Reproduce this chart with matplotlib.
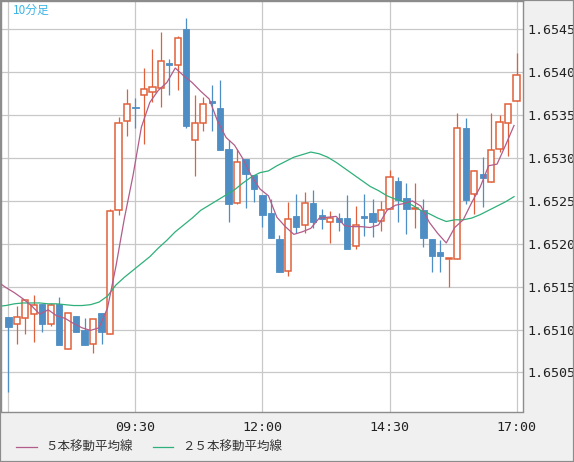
import numpy as np
import matplotlib.pyplot as plt
from matplotlib.patches import Rectangle
from matplotlib.lines import Line2D

# 10-minute bars, 07:00 .. 17:00
opens = [1.65115, 1.65107, 1.65114, 1.65118, 1.65130, 1.65107, 1.65130, 1.65077, 1.65116, 1.65099,
         1.65083, 1.65119, 1.65095, 1.65240, 1.65343, 1.65360, 1.65373, 1.65377, 1.65382, 1.65411,
         1.65408, 1.65451, 1.65321, 1.65341, 1.65367, 1.65358, 1.65311, 1.65248, 1.65299, 1.65280,
         1.65257, 1.65236, 1.65206, 1.65168, 1.65232, 1.65222, 1.65248, 1.65234, 1.65226, 1.65230,
         1.65230, 1.65198, 1.65232, 1.65236, 1.65227, 1.65241, 1.65273, 1.65253, 1.65241, 1.65240,
         1.65206, 1.65190, 1.65182, 1.65182, 1.65335, 1.65258, 1.65281, 1.65272, 1.65311, 1.65341,
         1.65366]
highs = [1.65115, 1.65127, 1.65135, 1.65140, 1.65130, 1.65131, 1.65138, 1.65119, 1.65116, 1.65113,
         1.65112, 1.65119, 1.65241, 1.65348, 1.65381, 1.65370, 1.65405, 1.65427, 1.65447, 1.65416,
         1.65442, 1.65463, 1.65374, 1.65371, 1.65385, 1.65391, 1.65321, 1.65310, 1.65299, 1.65280,
         1.65257, 1.65252, 1.65210, 1.65249, 1.65258, 1.65260, 1.65263, 1.65241, 1.65238, 1.65236,
         1.65257, 1.65244, 1.65258, 1.65252, 1.65250, 1.65286, 1.65278, 1.65271, 1.65271, 1.65252,
         1.65206, 1.65204, 1.65182, 1.65353, 1.65347, 1.65286, 1.65301, 1.65353, 1.65350, 1.65363,
         1.65423]
lows = [1.65027, 1.65083, 1.65095, 1.65086, 1.65097, 1.65104, 1.65082, 1.65077, 1.65097, 1.65082,
        1.65073, 1.65083, 1.65095, 1.65234, 1.65326, 1.65335, 1.65316, 1.65365, 1.65359, 1.65373,
        1.65379, 1.65335, 1.65279, 1.65331, 1.65332, 1.65309, 1.65226, 1.65246, 1.65242, 1.65249,
        1.65220, 1.65207, 1.65167, 1.65162, 1.65213, 1.65213, 1.65218, 1.65217, 1.65201, 1.65215,
        1.65194, 1.65194, 1.65209, 1.65208, 1.65215, 1.65241, 1.65225, 1.65211, 1.65218, 1.65196,
        1.65167, 1.65167, 1.65150, 1.65182, 1.65246, 1.65235, 1.65243, 1.65272, 1.65307, 1.65302,
        1.65366]
closes = [1.65103, 1.65115, 1.65134, 1.65129, 1.65107, 1.65129, 1.65082, 1.65119, 1.65097, 1.65082,
          1.65112, 1.65097, 1.65238, 1.65341, 1.65363, 1.65358, 1.65380, 1.65383, 1.65413, 1.65409,
          1.65440, 1.65337, 1.65341, 1.65363, 1.65364, 1.65309, 1.65246, 1.65295, 1.65281, 1.65264,
          1.65234, 1.65207, 1.65167, 1.65229, 1.65220, 1.65248, 1.65225, 1.65229, 1.65230, 1.65226,
          1.65194, 1.65222, 1.65230, 1.65225, 1.65240, 1.65278, 1.65251, 1.65241, 1.65242, 1.65207,
          1.65186, 1.65186, 1.65182, 1.65335, 1.65251, 1.65285, 1.65277, 1.65309, 1.65342, 1.65363,
          1.65397]

# moving averages, first value belongs to the bar before 07:00
ma5 = [1.65156, 1.65149, 1.65143, 1.65136, 1.65128, 1.65118, 1.65123, 1.65116, 1.65113, 1.65107, 1.65102,
       1.65099, 1.65102, 1.65125, 1.65174, 1.65230, 1.65279, 1.65336, 1.65365, 1.65379, 1.65388,
       1.65405, 1.65396, 1.65388, 1.65378, 1.65369, 1.65343, 1.65324, 1.65315, 1.65299, 1.65279,
       1.65264, 1.65256, 1.65231, 1.65220, 1.65211, 1.65214, 1.65218, 1.65230, 1.65231, 1.65232,
       1.65221, 1.65220, 1.65220, 1.65219, 1.65222, 1.65239, 1.65245, 1.65247, 1.65250, 1.65244,
       1.65225, 1.65212, 1.65201, 1.65219, 1.65228, 1.65248, 1.65266, 1.65291, 1.65293, 1.65315,
       1.65338]
ma25 = [1.65127, 1.65128, 1.65130, 1.65131, 1.65131, 1.65131, 1.65130, 1.65130, 1.65129, 1.65128, 1.65128,
        1.65129, 1.65132, 1.65139, 1.65152, 1.65161, 1.65169, 1.65177, 1.65185, 1.65195, 1.65204,
        1.65214, 1.65222, 1.65230, 1.65239, 1.65245, 1.65251, 1.65257, 1.65263, 1.65271, 1.65278,
        1.65283, 1.65285, 1.65291, 1.65296, 1.65301, 1.65304, 1.65307, 1.65305, 1.65301, 1.65295,
        1.65288, 1.65281, 1.65274, 1.65267, 1.65262, 1.65256, 1.65252, 1.65249, 1.65245, 1.65239,
        1.65235, 1.65230, 1.65226, 1.65228, 1.65228, 1.65230, 1.65234, 1.65239, 1.65244, 1.65249,
        1.65255]

time_ticks = [0, 15, 30, 45, 60]
time_labels = ['', '09:30', '12:00', '14:30', '17:00']
price_ticks = [1.6505, 1.6510, 1.6515, 1.6520, 1.6525, 1.6530, 1.6535, 1.6540, 1.6545]

UP = '#e0603c'
DOWN = '#4e8ec4'
C_MA5 = '#b25c8a'
C_MA25 = '#2fb07a'
GRID = '#c8c8c8'
FRAME = '#8c8c8c'

W, H = 574, 462
fig = plt.figure(figsize=(W / 100, H / 100), dpi=100, facecolor='#f0f0f0')
ax = fig.add_axes([1 / W, (H - 411.5) / H, 522 / W, 410.5 / H])
ax.set_facecolor('white')

n = len(closes)
idx = np.arange(n)
bw = 0.74

for i in idx:
    o, c, hi, lo = opens[i], closes[i], highs[i], lows[i]
    up = c >= o
    col = UP if up else DOWN
    ax.vlines(i, lo, hi, color=col, lw=0.9, zorder=3)
    bottom = min(o, c)
    h = max(abs(c - o), 0.000012)
    if up:
        ax.add_patch(Rectangle((i - bw / 2, bottom), bw, h, facecolor='white',
                               edgecolor=col, lw=1.1, zorder=4))
    else:
        ax.add_patch(Rectangle((i - bw / 2, bottom), bw, h, facecolor=col,
                               edgecolor=col, lw=0.6, zorder=4))

ma_x = np.arange(-1, n) - 0.3
ax.plot(ma_x, ma25, color=C_MA25, lw=0.9, zorder=5)
ax.plot(ma_x, ma5, color=C_MA5, lw=0.9, zorder=5)

ax.set_xlim(-0.874, 60.76)
ax.set_ylim(1.650044, 1.654832)

ax.set_xticks(time_ticks)
ax.set_xticklabels(time_labels)
ax.set_yticks(price_ticks)
ax.set_yticklabels([f'{p:.4f}' for p in price_ticks])
ax.yaxis.tick_right()
ax.tick_params(axis='both', length=0, labelsize=9.6, colors='#222222')
ax.tick_params(axis='x', pad=7)
ax.tick_params(axis='y', pad=3)
for lab in ax.get_xticklabels() + ax.get_yticklabels():
    lab.set_fontfamily('DejaVu Sans Mono')
ax.grid(True, color=GRID, lw=0.9, zorder=0)
ax.set_axisbelow(True)
for s in ax.spines.values():
    s.set_color(FRAME)
    s.set_linewidth(1.0)

# outer frame of the widget
fig.add_artist(Rectangle((0, 0), 1, 1, transform=fig.transFigure, fill=False,
                         edgecolor=FRAME, lw=1.6))

jp = ['Noto Sans CJK JP', 'DejaVu Sans']
fig.text(13 / W, 1 - 10 / H, '10分足', color='#3cb4e6', fontsize=8.5,
         family=jp, va='center', ha='left')

# legend under the chart
ly = 1 - 447 / H
fig.add_artist(Line2D([16 / W, 37 / W], [ly, ly], color=C_MA5, lw=0.9))
fig.text(45 / W, ly, '５本移動平均線', fontsize=9, family=jp, va='center', color='#333333')
fig.add_artist(Line2D([153 / W, 173 / W], [ly, ly], color=C_MA25, lw=0.9))
fig.text(182 / W, ly, '２５本移動平均線', fontsize=9, family=jp, va='center', color='#333333')

fig.savefig('out.png', dpi=100, facecolor=fig.get_facecolor())
